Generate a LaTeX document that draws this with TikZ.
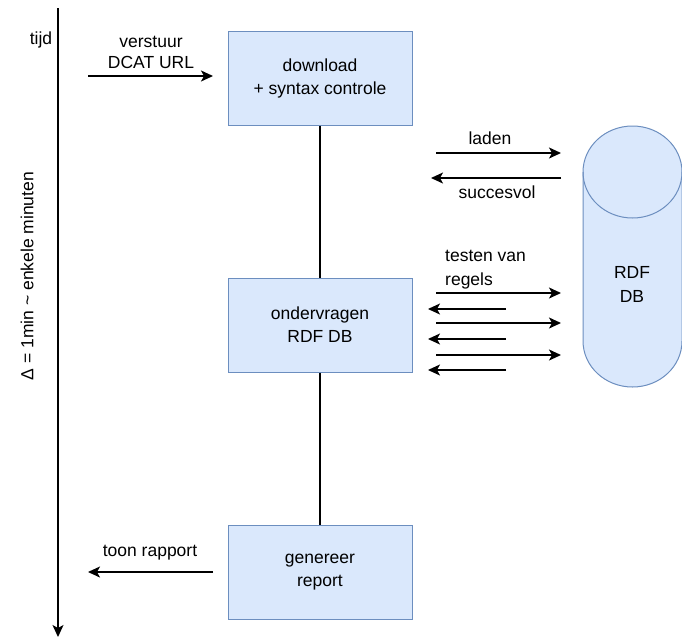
\documentclass[tikz,border=0pt]{standalone}
\usepackage{fontspec}
\setmainfont{Liberation Sans}
\usetikzlibrary{arrows.meta}

\definecolor{boxfill}{HTML}{DAE8FC}
\definecolor{boxline}{HTML}{6C8EBF}

\tikzset{
	stap/.style={draw=boxline, fill=boxfill, line width=1pt, minimum width=184pt, minimum height=94pt, align=center, inner sep=0pt, font=\fontsize{17.5}{23}\selectfont},
	pijl/.style={line width=1.5pt, -{Stealth[length=12pt, width=11pt, inset=3pt]}},
	lbl/.style={font=\fontsize{17.5}{21}\selectfont, inner sep=0pt}
}

\begin{document}
\begin{tikzpicture}[x=1pt, y=-1pt]
		
		\useasboundingbox (0,0) rectangle (682,641);
		
		%%% tijdas
		\coordinate (t0) at (58,8);
		\coordinate (t1) at (58,637);
		\draw[pijl] (t0) -- (t1);
		\node[lbl] (tijd) at (41,40) {tijd};
		\node[lbl, rotate=90] (delta) at (27,276) {Δ = 1min \textasciitilde{} enkele minuten};
		
		%%% stappen
		\node[stap] (download) at (320,78) {download\\+ syntax controle};
		\node[stap] (vragen) at (320,325) {ondervragen\\RDF DB};
		\node[stap] (rapport) at (320,572) {genereer\\report};
		
		\draw[line width=1.5pt] (download) -- (vragen);
		\draw[line width=1.5pt] (vragen) -- (rapport);
		
		%%% database
		\filldraw[draw=boxline, fill=boxfill, line width=1pt] (583,172) -- (583,341) arc (180:0:49.5 and 46) -- (682,172) arc (0:-180:49.5 and 46) -- cycle;
		\draw[boxline, line width=1pt] (583,172) arc (180:0:49.5 and 46);
		\node[lbl, align=center, font=\fontsize{17.5}{24}\selectfont] (db) at (632,284) {RDF\\DB};
		
		%%% verstuur
		\coordinate (url0) at (88,76);
		\coordinate (url1) at (213,76);
		\draw[pijl] (url0) -- (url1);
		\node[lbl, align=center, font=\fontsize{17.5}{21}\selectfont] (urltxt) at (151,52) {verstuur\\DCAT URL};
		
		%%% laden
		\coordinate (ld0) at (436,153);
		\coordinate (ld1) at (561,153);
		\draw[pijl] (ld0) -- (ld1);
		\node[lbl] (laden) at (490,138) {laden};
		
		%%% succesvol
		\coordinate (sv0) at (561,178);
		\coordinate (sv1) at (431,178);
		\draw[pijl] (sv0) -- (sv1);
		\node[lbl] (succes) at (497,192) {succesvol};
		
		%%% testen van regels
		\node[lbl, align=left, anchor=west, font=\fontsize{17.5}{24}\selectfont] (testen) at (445,270) {testen van\\regels};
		\foreach \y in {293,323,355} {
			\coordinate (r0) at (436,\y);
			\coordinate (r1) at (561,\y);
			\draw[pijl] (r0) -- (r1);
		}
		\foreach \y in {309,339,370} {
			\coordinate (l0) at (506,\y);
			\coordinate (l1) at (428,\y);
			\draw[pijl] (l0) -- (l1);
		}
		
		%%% toon rapport
		\coordinate (tr0) at (213,572);
		\coordinate (tr1) at (88,572);
		\draw[pijl] (tr0) -- (tr1);
		\node[lbl] (toon) at (150,553) {toon rapport};
		
	\end{tikzpicture}
\end{document}
